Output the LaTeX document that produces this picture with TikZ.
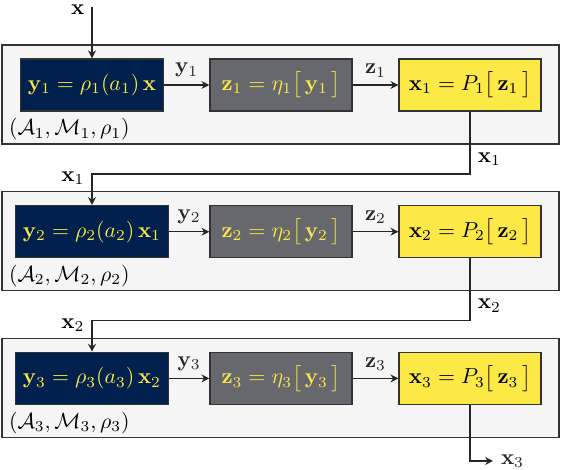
\documentclass[tikz,border=0pt]{standalone}
\usepackage{amsmath}
\usetikzlibrary{arrows.meta,positioning}
\definecolor{cvblue}{RGB}{0,32,78}
\definecolor{cvgray}{RGB}{103,104,110}
\definecolor{cvyellow}{RGB}{253,233,69}

\begin{document}
\begin{tikzpicture}[
  stage/.style={rectangle, draw=black!80, fill=black!4, semithick,
                minimum width=8.98cm, minimum height=1.596cm},
  op/.style={rectangle, draw=black!80, semithick, minimum width=2.29cm,
             minimum height=0.84cm},
  flow/.style={-{Stealth[length=3.6pt,width=3.6pt]}, semithick, black!85},
  tuple/.style={anchor=south west, yshift=-1.5pt},
]
  \useasboundingbox (-1.483,1.370) rectangle (7.576,-6.206);

  \node[stage] (s1) at (3.039,-0.153) {};
  \node[stage] (s2) at (3.039,-2.518) {};
  \node[stage] (s3) at (3.039,-4.883) {};

  \node[op, fill=cvblue, text=cvyellow] (b1) at (0,0) {$\mathbf{y}_1 = \rho_1(a_1)\,\mathbf{x}$};
  \node[op, fill=cvgray, text=cvyellow] (g1) at (3.047,0) {$\mathbf{z}_1 = \eta_1\bigl[\,\mathbf{y}_1\,\bigr]$};
  \node[op, fill=cvyellow] (p1) at (6.094,0) {$\mathbf{x}_1 = P_1\bigl[\,\mathbf{z}_1\,\bigr]$};
  \node[op, fill=cvblue, text=cvyellow] (b2) at (0,-2.365) {$\mathbf{y}_2 = \rho_2(a_2)\,\mathbf{x}_1$};
  \node[op, fill=cvgray, text=cvyellow] (g2) at (3.047,-2.365) {$\mathbf{z}_2 = \eta_2\bigl[\,\mathbf{y}_2\,\bigr]$};
  \node[op, fill=cvyellow] (p2) at (6.094,-2.365) {$\mathbf{x}_2 = P_2\bigl[\,\mathbf{z}_2\,\bigr]$};
  \node[op, fill=cvblue, text=cvyellow] (b3) at (0,-4.73) {$\mathbf{y}_3 = \rho_3(a_3)\,\mathbf{x}_2$};
  \node[op, fill=cvgray, text=cvyellow] (g3) at (3.047,-4.73) {$\mathbf{z}_3 = \eta_3\bigl[\,\mathbf{y}_3\,\bigr]$};
  \node[op, fill=cvyellow] (p3) at (6.094,-4.73) {$\mathbf{x}_3 = P_3\bigl[\,\mathbf{z}_3\,\bigr]$};

  \node[tuple] (m1) at (s1.south west) {$(\mathcal{A}_1,\mathcal{M}_1,\rho_1)$};
  \node[tuple] (m2) at (s2.south west) {$(\mathcal{A}_2,\mathcal{M}_2,\rho_2)$};
  \node[tuple] (m3) at (s3.south west) {$(\mathcal{A}_3,\mathcal{M}_3,\rho_3)$};

  \coordinate (in) at (0,1.25);
  \coordinate (t1) at (0,-1.435);
  \coordinate (t2) at (0,-3.80);
  \coordinate (out) at (6.465,-6.06);

  \node[anchor=east, yshift=-1pt] (x0) at (in) {$\mathbf{x}$};
  \draw[flow] (in) -- (b1);
  \draw[flow] (b1) -- node[above] (l1) {$\mathbf{y}_1$} (g1);
  \draw[flow] (g1) -- node[above] (k1) {$\mathbf{z}_1$} (p1);
  \draw[flow] (p1.south) |- (t1) -- (b2.north);
  \node[anchor=north west] (r1) at (p1.south |- s1.south) {$\mathbf{x}_1$};
  \node[anchor=east, yshift=-2pt] (q1) at (t1) {$\mathbf{x}_1$};

  \draw[flow] (b2) -- node[above] (l2) {$\mathbf{y}_2$} (g2);
  \draw[flow] (g2) -- node[above] (k2) {$\mathbf{z}_2$} (p2);
  \draw[flow] (p2.south) |- (t2) -- (b3.north);
  \node[anchor=north west] (r2) at (p2.south |- s2.south) {$\mathbf{x}_2$};
  \node[anchor=east, yshift=-2pt] (q2) at (t2) {$\mathbf{x}_2$};

  \draw[flow] (b3) -- node[above] (l3) {$\mathbf{y}_3$} (g3);
  \draw[flow] (g3) -- node[above] (k3) {$\mathbf{z}_3$} (p3);
  \draw[flow] (p3.south) |- (out) node[right] (o3) {$\mathbf{x}_3$};
\end{tikzpicture}
\end{document}
